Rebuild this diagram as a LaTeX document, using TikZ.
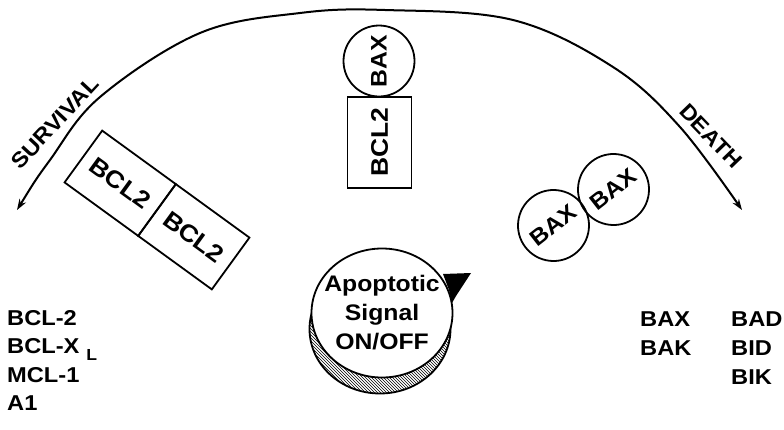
\documentclass[tikz,border=0pt]{standalone}
\usepackage{fontspec}
\setmainfont{Liberation Sans}[FakeStretch=1.1]
\usetikzlibrary{arrows.meta,shapes.geometric,patterns}
\begin{document}
\begin{tikzpicture}[x=1pt,y=-1pt,
  lbl/.style={font=\fontsize{21.5}{26}\selectfont\bfseries, inner sep=0pt},
  bx/.style={draw, line width=1.8pt, minimum width=91pt, minimum height=64pt, inner sep=0pt,
    font=\fontsize{24}{28}\selectfont\bfseries, transform shape},
  mol/.style={draw, circle, line width=1.8pt, minimum size=71pt, inner sep=0pt,
    font=\fontsize{22.5}{26}\selectfont\bfseries, transform shape},
  arc/.style={line width=2pt, {Stealth[length=11pt,width=7.5pt]}-{Stealth[length=11pt,width=7.5pt]}}]
\useasboundingbox (0,0) rectangle (784,429);

% main arc
\draw[arc] plot[smooth, tension=0.6] coordinates {(17,210) (50,160) (100,97) (200,33) (300,13) (385,10) (513,20) (613,67) (680,127) (742,210)};
\node[lbl, rotate=47, font=\fontsize{21.5}{25}\selectfont\bfseries] (surv) at (55,123) {SURVIVAL};
\node[lbl, rotate=-46, font=\fontsize{21.5}{25}\selectfont\bfseries] (death) at (711,136) {DEATH};

% BCL2 - BAX heterodimer
\node[bx, rotate=90] (bclv) at (379.5,142.5) {BCL2};
\node[mol, rotate=90] (baxtop) at (379,61) {BAX};

% BCL2 homodimer
\begin{scope}[shift={(157,210)}, rotate=-36]
  \node[bx] (bcla) at (-45.5,0) {BCL2};
  \node[bx] (bclb) at (45.5,0) {BCL2};
\end{scope}

% BAX homodimer
\node[mol, rotate=38] (baxa) at (553.5,225.5) {BAX};
\node[mol, rotate=38] (baxb) at (613.5,189.5) {BAX};

% dial
\node[ellipse, draw, line width=1.8pt, pattern=north west lines, minimum width=141pt, minimum height=129pt, inner sep=0pt] (shadow) at (380,329) {};
\node[ellipse, draw, line width=1.8pt, fill=white, minimum width=141pt, minimum height=129pt, inner sep=0pt] (dial) at (382,313) {};
\fill (443,274) -- (471,273) -- (456,296) -- (452,303) -- (449,290) -- cycle;
\node[lbl, align=center, font=\fontsize{22.5}{29}\selectfont\bfseries] (sig) at (dial.center) {Apoptotic\\Signal\\ON/OFF};

% lists
\node[lbl, anchor=base west] (l1) at (7,325.5) {BCL-2};
\node[lbl, anchor=base west] (l2) at (7,353.5) {BCL-X\hspace{7pt}\raisebox{-6.5pt}{\fontsize{16}{16}\selectfont L}};
\node[lbl, anchor=base west] (l3) at (7,382) {MCL-1};
\node[lbl, anchor=base west] (l4) at (7,410.5) {A1};

\node[lbl, anchor=base west] (r1) at (640,326) {BAX};
\node[lbl, anchor=base west] (r2) at (640,355) {BAK};
\node[lbl, anchor=base west] (r3) at (731,326) {BAD};
\node[lbl, anchor=base west] (r4) at (731,355) {BID};
\node[lbl, anchor=base west] (r5) at (731,384) {BIK};
\end{tikzpicture}
\end{document}
